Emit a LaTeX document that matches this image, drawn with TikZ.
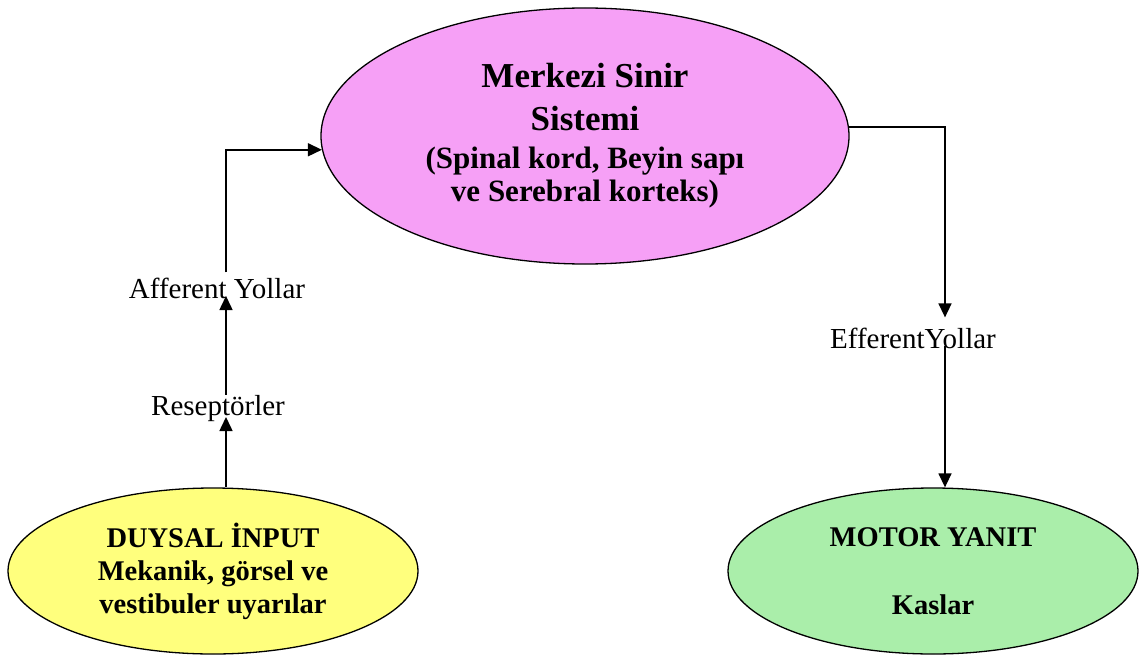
\documentclass[tikz,border=0pt]{standalone}
\usepackage{fontspec}
\setmainfont{Liberation Serif}
\usetikzlibrary{arrows.meta,shapes.geometric,calc}
\definecolor{pinkfill}{RGB}{246,160,246}
\definecolor{yellowfill}{RGB}{255,255,125}
\definecolor{greenfill}{RGB}{170,238,170}
\newcommand\cnsbig{\fontsize{35}{42}\selectfont}
\begin{document}
\begin{tikzpicture}[x=1pt,y=-1pt,
  blob/.style={ellipse,draw=black,line width=1.3pt,inner sep=0pt,align=center,
    font=\bfseries\fontsize{28.5}{33}\selectfont},
  lbl/.style={inner sep=0pt,anchor=base,font=\fontsize{29}{34}\selectfont},
  conn/.style={line width=1.5pt,-{Triangle[length=14pt,width=13pt]}}]
\path[use as bounding box] (0,0) rectangle (1147,655);
\node[blob,fill=pinkfill,minimum width=528pt,minimum height=256pt,
  font=\bfseries\fontsize{31}{33}\selectfont] (cns) at (585,136)
  {{\cnsbig Merkezi Sinir}\\[10pt]{\cnsbig Sistemi}\\[5pt](Spinal kord, Beyin sapı\\ve Serebral korteks)};
\node[blob,fill=yellowfill,minimum width=410pt,minimum height=166pt] (duy) at (213,571)
  {DUYSAL İNPUT\\Mekanik, görsel ve\\vestibuler uyarılar};
\node[blob,fill=greenfill,minimum width=410pt,minimum height=166pt] (mot) at (933,571)
  {MOTOR YANIT\\[35pt]Kaslar};
\node[lbl] (aff) at (217,298) {Afferent Yollar};
\node[lbl] (res) at (218,415) {Reseptörler};
\node[lbl] (eff) at (913,348) {EfferentYollar};
\coordinate (ax) at (226,0);
\coordinate (ex) at (945,0);
\draw[conn] (duy.north -| ax) -- ($(res.base -| ax)+(0,2)$);
\draw[conn] (res.north -| ax) -- ($(aff.base -| ax)+(0,-2)$);
\draw[conn] ($(aff.north -| ax)+(0,-5)$) |- (cns.183.5);
\draw[conn] (cns.2) -| ($(eff.north -| ex)+(0,-10)$);
\draw[conn] ($(eff.base -| ex)+(0,-2)$) -- (mot.north -| ex);
\end{tikzpicture}
\end{document}
